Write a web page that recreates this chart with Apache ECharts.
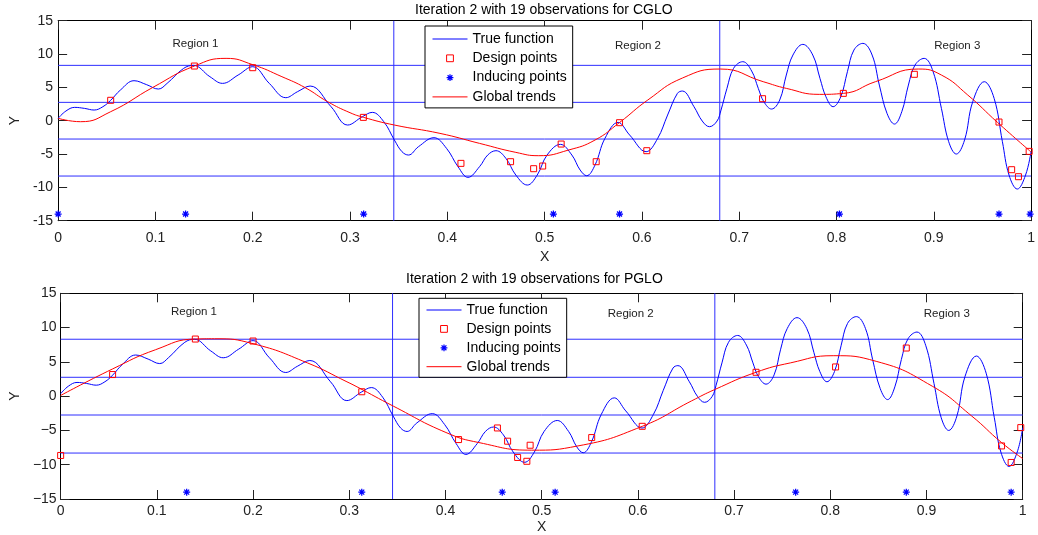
<!DOCTYPE html>
<html><head><meta charset="utf-8">
<script src="https://cdn.jsdelivr.net/npm/echarts@6/dist/echarts.min.js"></script>
<style>html,body{margin:0;padding:0;background:#fff}#c{width:1038px;height:535px}</style>
</head><body><div id="c"></div>
<script>
// ---- data ----
const trueFunction = [[0,0.36],[0.008,1.45],[0.017,2.0],[0.027,1.85],[0.037,1.6],[0.046,2.1],[0.054,3.06],[0.064,4.6],[0.078,6.0],[0.091,5.4],[0.103,4.75],[0.112,5.6],[0.129,7.85],[0.139,8.3],[0.156,6.6],[0.169,5.6],[0.185,6.85],[0.2,8.1],[0.217,5.6],[0.234,3.45],[0.246,4.35],[0.259,5.2],[0.2805,2.1],[0.2975,-0.65],[0.3127,0.6],[0.3229,1.25],[0.3347,-0.15],[0.3456,-2.9],[0.3534,-4.65],[0.3601,-5.15],[0.3703,-3.9],[0.3863,-2.55],[0.3992,-4.15],[0.411,-6.9],[0.4212,-8.5],[0.4331,-6.9],[0.4415,-5.15],[0.45,-4.5],[0.4602,-5.65],[0.4704,-8.15],[0.4822,-9.65],[0.4924,-8.15],[0.5025,-5.15],[0.5162,-3.55],[0.528,-5.15],[0.5365,-7.4],[0.5432,-8.25],[0.5518,-6.65],[0.562,-2.65],[0.5755,-0.25],[0.5874,-2.15],[0.6043,-4.65],[0.6162,-2.65],[0.6264,0.85],[0.6365,4.1],[0.6416,4.45],[0.6535,2.1],[0.662,-0.05],[0.6694,-0.9],[0.6772,-0.05],[0.6813,1.6],[0.6874,4.85],[0.6942,7.85],[0.7037,8.85],[0.7128,7.45],[0.7196,4.85],[0.7253,2.85],[0.7332,1.75],[0.7416,3.1],[0.7484,6.85],[0.7552,9.85],[0.7654,11.45],[0.7756,9.85],[0.783,6.35],[0.7891,3.6],[0.7965,2.1],[0.8044,3.6],[0.8112,7.35],[0.8179,10.6],[0.8271,11.6],[0.8366,9.85],[0.844,5.35],[0.8519,1.1],[0.8596,-0.5],[0.8671,1.35],[0.8739,5.35],[0.8807,8.35],[0.8901,9.35],[0.8993,7.35],[0.9078,1.85],[0.9153,-3.15],[0.9231,-5.0],[0.9316,-2.9],[0.94,2.85],[0.9519,5.85],[0.962,3.35],[0.9705,-3.15],[0.9773,-8.15],[0.9858,-10.25],[0.9943,-8.15],[1.0,-4.6]];
const cgloTrend = [[0,0.36],[0.023,-0.15],[0.054,1.35],[0.0974,5.0],[0.14,8.2],[0.1726,9.35],[0.2,8.4],[0.23,6.6],[0.254,4.95],[0.277,2.85],[0.3,1.2],[0.314,0.5],[0.3456,-0.65],[0.3924,-1.9],[0.4331,-3.4],[0.4704,-4.75],[0.494,-5.25],[0.5246,-4.4],[0.5518,-2.9],[0.5772,-0.25],[0.606,3.1],[0.6416,6.4],[0.6806,7.75],[0.7247,5.85],[0.7484,4.85],[0.7823,3.95],[0.807,4.1],[0.84,5.85],[0.884,7.75],[0.9078,6.85],[0.9349,3.85],[0.9654,-0.25],[1.0,-4.7]];
const pgloTrend = [[0,0.1],[0.054,3.97],[0.0988,6.78],[0.14,8.33],[0.16,8.37],[0.2,7.65],[0.2565,4.85],[0.2976,2.09],[0.308,1.36],[0.3457,-1.45],[0.4005,-5.3],[0.4348,-6.77],[0.4897,-7.88],[0.5377,-7.26],[0.6045,-4.4],[0.6557,-0.7],[0.68,0.97],[0.7228,3.48],[0.7585,4.85],[0.803,5.9],[0.8477,5.08],[0.906,1.45],[0.947,-2.9],[0.978,-6.77],[1.0,-9.1]];
const cgloDesign = [[0.054,3.06],[0.14,8.2],[0.2,7.95],[0.3137,0.5],[0.414,-6.4],[0.465,-6.15],[0.4887,-7.2],[0.498,-6.8],[0.517,-3.5],[0.553,-6.15],[0.577,-0.3],[0.605,-4.5],[0.724,3.3],[0.807,4.1],[0.88,6.96],[0.967,-0.2],[0.98,-7.35],[0.987,-8.4],[0.998,-4.6]];
const pgloDesign = [[0,-8.65],[0.054,3.15],[0.14,8.33],[0.2,8.04],[0.313,0.64],[0.4136,-6.33],[0.454,-4.64],[0.4646,-6.57],[0.475,-8.94],[0.4846,-9.5],[0.488,-7.16],[0.552,-6.04],[0.6045,-4.4],[0.7228,3.48],[0.8055,4.26],[0.879,7.02],[0.978,-7.26],[0.988,-9.67],[0.998,-4.59]];
const cgloInducingX = [0, 0.131, 0.314, 0.509, 0.577, 0.803, 0.967, 0.999];
const pgloInducingX = [0.131, 0.313, 0.459, 0.514, 0.764, 0.879, 0.988];
const inducingLevel = -14;
const regionBoundsX = [0.345, 0.68];
const levelLinesY = [8.3, 2.75, -2.75, -8.3];
const regionNames = ['Region 1', 'Region 2', 'Region 3'];
const legendNames = ['True function', 'Design points', 'Inducing points', 'Global trends'];
const titles = ['Iteration 2 with 19 observations for CGLO', 'Iteration 2 with 19 observations for PGLO'];
const xRange = [0, 1];
const yRange = [-15, 15];

// ---- drawing ----
const FONT = 'Liberation Sans, Arial, Helvetica, sans-serif';
const BLUE = '#0000ff', RED = '#ff0000', GUIDE = '#2e2eff';
const ASTERISK = 'path://M-1,-0.18L1,-0.18L1,0.18L-1,0.18Z M0.18,-1L0.18,1L-0.18,1L-0.18,-1Z M-0.58,-0.834L0.834,0.58L0.58,0.834L-0.834,-0.58Z M-0.834,0.58L0.58,-0.834L0.834,-0.58L-0.58,0.834Z';

const chart = echarts.init(document.getElementById('c'));

const grids = [
  {left: 54.3, top: 20.7, width: 982.7, height: 200},
  {left: 50.7, top: 293.3, width: 972, height: 206.7}
];
const axCfg = [
  {labelMargin: 10, nameGap: 29, yNameGap: 35, yLabelMargin: 5, fmt: v => String(v)},
  {labelMargin: 5, nameGap: 21, yNameGap: 26, yLabelMargin: 4, fmt: v => String(v).replace('-', '\u2212')}
];

const xAxis = [], yAxis = [];
grids.forEach((g, i) => {
  const c = axCfg[i];
  const common = {gridIndex: i, type: 'value', splitLine: {show: false},
    axisLine: {show: true, onZero: false, lineStyle: {color: '#000', width: 1}},
    axisTick: {show: true, inside: true, length: 9, lineStyle: {color: '#222', width: 1}}};
  xAxis.push(Object.assign({}, common, {min: xRange[0], max: xRange[1], interval: 0.1, position: 'bottom',
    axisLabel: {margin: c.labelMargin, fontSize: 14, color: '#222', fontFamily: FONT},
    name: 'X', nameLocation: 'middle', nameGap: c.nameGap,
    nameTextStyle: {fontSize: 14, color: '#222', fontFamily: FONT}}));
  xAxis.push(Object.assign({}, common, {min: xRange[0], max: xRange[1], interval: 0.1, position: 'top', axisLabel: {show: false}}));
  yAxis.push(Object.assign({}, common, {min: yRange[0], max: yRange[1], interval: 5, position: 'left',
    axisLabel: {margin: c.yLabelMargin, fontSize: 14, color: '#222', fontFamily: FONT, formatter: c.fmt},
    name: 'Y', nameLocation: 'middle', nameGap: c.yNameGap, nameRotate: 90,
    nameTextStyle: {fontSize: 14, color: '#222', fontFamily: FONT}}));
  yAxis.push(Object.assign({}, common, {min: yRange[0], max: yRange[1], interval: 5, position: 'right', axisLabel: {show: false}}));
});

const trends = [cgloTrend, pgloTrend];
const designs = [cgloDesign, pgloDesign];
const inducing = [cgloInducingX, pgloInducingX];
const series = [];
grids.forEach((g, i) => {
  const ax = {xAxisIndex: 2 * i, yAxisIndex: 2 * i};
  const guide = (data) => Object.assign({name: 'guide', type: 'line', data, symbol: 'none', silent: true,
    lineStyle: {color: GUIDE, width: 1}, itemStyle: {color: GUIDE}, z: 1, emphasis: {disabled: true}}, ax);
  levelLinesY.forEach(v => series.push(guide([[xRange[0], v], [xRange[1], v]])));
  regionBoundsX.forEach(v => series.push(guide([[v, yRange[0]], [v, yRange[1]]])));
  series.push(Object.assign({name: legendNames[0], type: 'line', data: trueFunction, smooth: 0.4,
    symbol: 'none', lineStyle: {color: BLUE, width: 1}, itemStyle: {color: BLUE}, z: 2}, ax));
  series.push(Object.assign({name: legendNames[3], type: 'line', data: trends[i], smooth: 0.5,
    symbol: 'none', lineStyle: {color: RED, width: 1}, itemStyle: {color: RED}, z: 3}, ax));
  series.push(Object.assign({name: legendNames[1], type: 'line', data: designs[i], clip: false,
    symbol: 'rect', symbolSize: 6, showSymbol: true, lineStyle: {width: 0, opacity: 0},
    itemStyle: {color: 'rgba(0,0,0,0)', borderColor: RED, borderWidth: 1}, z: 4}, ax));
  series.push(Object.assign({name: legendNames[2], type: 'line',
    data: inducing[i].map(x => [x, inducingLevel]), clip: false,
    symbol: ASTERISK, symbolSize: 7, showSymbol: true, lineStyle: {width: 0, opacity: 0},
    itemStyle: {color: BLUE}, z: 4}, ax));
});

function legendData() {
  return [
    {name: legendNames[0], itemStyle: {opacity: 0}, lineStyle: {width: 1}},
    {name: legendNames[1], lineStyle: {opacity: 0}, itemStyle: {borderWidth: 1}},
    {name: legendNames[2], lineStyle: {opacity: 0}},
    {name: legendNames[3], itemStyle: {opacity: 0}, lineStyle: {width: 1}}
  ];
}
const legendBase = {orient: 'vertical', itemWidth: 35, itemHeight: 8.5, selectedMode: false,
  backgroundColor: '#fff', borderColor: '#000', borderWidth: 1, borderRadius: 0,
  textStyle: {fontSize: 14, color: '#000', fontFamily: FONT}};
const legend = [
  Object.assign({}, legendBase, {left: 425, top: 26, padding: [6, 6, 4, 7], itemGap: 5.3, data: legendData()}),
  Object.assign({}, legendBase, {left: 419, top: 298.3, padding: [4.7, 6, 3.6, 7], itemGap: 4.9, data: legendData()})
];

const regionPos = [
  [[195.5, 44], [638, 45.5], [957.3, 45.5]],
  [[194, 312], [630.7, 314], [946.8, 314]]
];
const graphic = [];
regionPos.forEach(row => row.forEach((p, k) => {
  graphic.push({type: 'text', x: p[0], y: p[1], silent: true, z: 10,
    style: {text: regionNames[k], font: '11.5px ' + FONT, fill: '#222', align: 'center', verticalAlign: 'middle'}});
}));

chart.setOption({
  animation: false,
  backgroundColor: '#fff',
  title: [
    {text: titles[0], left: 415, top: 3, padding: 0, textStyle: {fontSize: 14, fontWeight: 'normal', color: '#000', fontFamily: FONT}},
    {text: titles[1], left: 406, top: 272, padding: 0, textStyle: {fontSize: 14, fontWeight: 'normal', color: '#000', fontFamily: FONT}}
  ],
  grid: grids.map(g => Object.assign({containLabel: false, show: false}, g)),
  xAxis, yAxis, series, legend, graphic
});
</script>
</body></html>
